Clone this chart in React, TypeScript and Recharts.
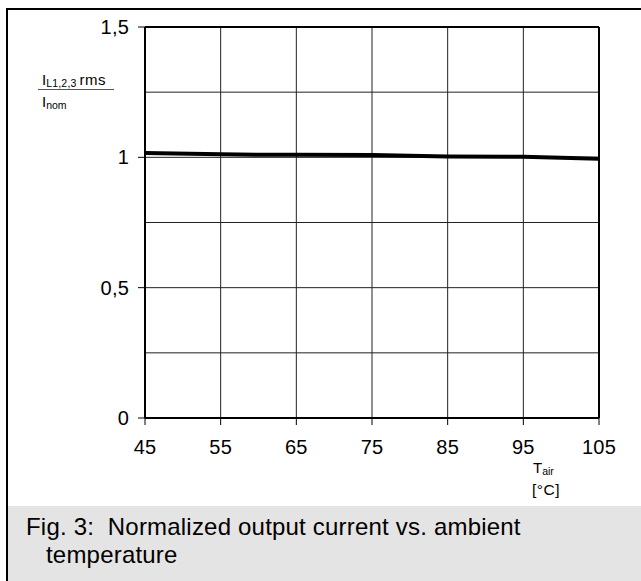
import React from 'react';
import { LineChart, Line, XAxis, YAxis, ReferenceLine } from 'recharts';

const temps = [45, 55, 60, 65, 75, 80, 85, 95, 105];
const current = [1.017, 1.012, 1.01, 1.01, 1.009, 1.006, 1.003, 1.002, 0.995];
const xTicks = [45, 55, 65, 75, 85, 95, 105];
const yTicks = [0, 0.5, 1, 1.5];
const yTickLabels = ['0', '0,5', '1', '1,5'];
const hGrid = [0.25, 0.5, 0.75, 1, 1.25];
const vGrid = [55, 65, 75, 85, 95];
const captionLine1 = 'Fig. 3:  Normalized output current vs. ambient';
const captionLine2 = 'temperature';

const data = temps.map((t, i) => ({ t, v: current[i] }));
const FONT = '"Liberation Sans", Arial, Helvetica, sans-serif';

export default function App() {
  return (
    <div style={{ position: 'absolute', left: 0, top: 0, width: 641, height: 581, overflow: 'hidden', background: '#fff', fontFamily: FONT }}>
      <div style={{ position: 'absolute', left: 6, top: 8, width: 700, height: 700, borderLeft: '2px solid #000', borderTop: '2px solid #000' }} />
      <div style={{ position: 'absolute', left: 8, top: 506, width: 640, height: 80, background: '#e4e4e4' }} />
      <div style={{ position: 'absolute', left: 0, top: 0 }}>
        <LineChart width={641} height={506} data={data} margin={{ top: 27, right: 42, bottom: 58, left: 85 }}>
          <XAxis
            dataKey="t"
            type="number"
            domain={[45, 105]}
            ticks={xTicks}
            interval={0}
            height={30}
            tickSize={7}
            tickMargin={15}
            axisLine={{ stroke: '#000', strokeWidth: 2 }}
            tickLine={{ stroke: '#000', strokeWidth: 1 }}
            tick={{ fill: '#000', fontSize: 20, fontFamily: FONT, letterSpacing: 0.2 }}
          />
          <YAxis
            type="number"
            domain={[0, 1.5]}
            ticks={yTicks}
            interval={0}
            width={60}
            tickSize={7}
            tickMargin={9}
            tickFormatter={(v: number) => yTickLabels[yTicks.indexOf(v)] ?? String(v)}
            axisLine={{ stroke: '#000', strokeWidth: 2 }}
            tickLine={{ stroke: '#000', strokeWidth: 1 }}
            tick={{ fill: '#000', fontSize: 20, fontFamily: FONT, letterSpacing: 0.2 }}
          />
          {hGrid.map((y) => (
            <ReferenceLine key={'h' + y} y={y} stroke="#222" strokeWidth={1} />
          ))}
          {vGrid.map((x) => (
            <ReferenceLine key={'v' + x} x={x} stroke="#222" strokeWidth={1} />
          ))}
          <ReferenceLine y={1.5} stroke="#000" strokeWidth={2} />
          <ReferenceLine x={105} stroke="#000" strokeWidth={2} />
          <Line dataKey="v" type="linear" stroke="#000" strokeWidth={4} dot={false} isAnimationActive={false} />
        </LineChart>
      </div>
      <svg width={641} height={581} style={{ position: 'absolute', left: 0, top: 0, pointerEvents: 'none' }}>
        <g fontFamily={FONT} fill="#000">
          <text x={42} y={85} fontSize={15}>
            I<tspan fontSize={10.5} dy={2} letterSpacing={0.2}>L1,2,3</tspan>
            <tspan fontSize={15} dy={-2} dx={3} letterSpacing={0.5}>rms</tspan>
          </text>
          <line x1={38} x2={114} y1={89.5} y2={89.5} stroke="#555" strokeWidth={1} />
          <text x={42} y={107} fontSize={15}>
            I<tspan fontSize={10.5} dy={2}>nom</tspan>
          </text>
          <text x={533} y={473} fontSize={15}>
            T<tspan fontSize={10.5} dy={2}>air</tspan>
          </text>
          <text x={532} y={495} fontSize={15.5} letterSpacing={0.5}>[°C]</text>
          <text x={26} y={535} fontSize={24} letterSpacing={0.2} style={{ whiteSpace: 'pre' }}>{captionLine1}</text>
          <text x={46} y={563} fontSize={24} letterSpacing={0.2}>{captionLine2}</text>
        </g>
      </svg>
    </div>
  );
}
